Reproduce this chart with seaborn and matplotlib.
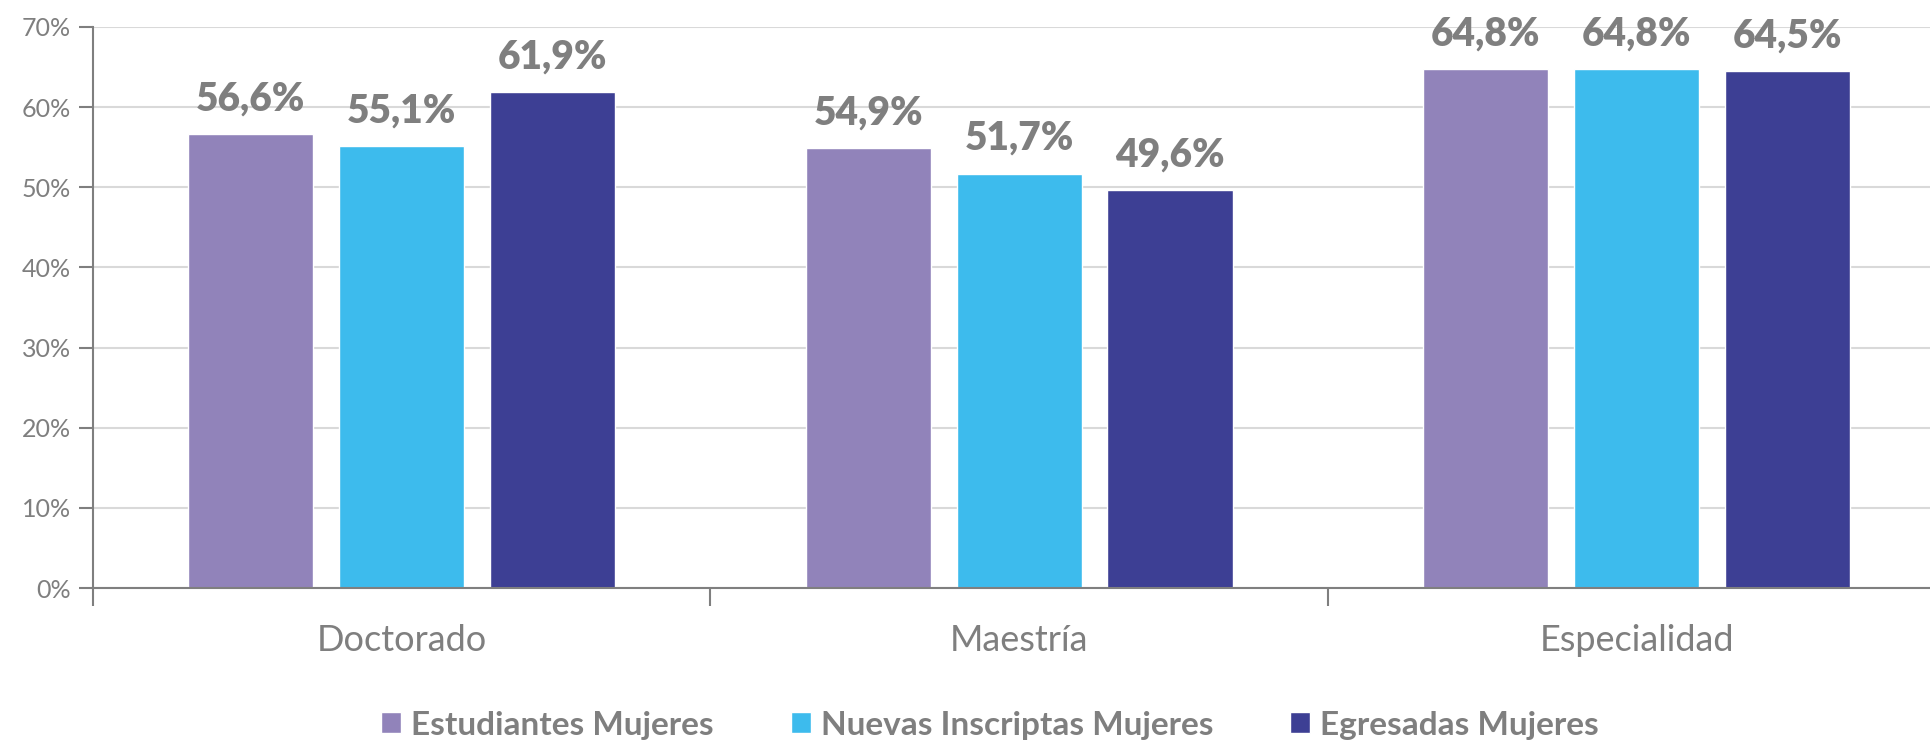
import matplotlib.pyplot as plt
import seaborn as sns
import pandas as pd

# datos del gráfico
niveles = ['Doctorado', 'Maestría', 'Especialidad']
series = ['Estudiantes Mujeres', 'Nuevas Inscriptas Mujeres', 'Egresadas Mujeres']
estudiantes = [56.6, 54.9, 64.8]
nuevas = [55.1, 51.7, 64.8]
egresadas = [61.9, 49.6, 64.5]
y_ticks = [0, 10, 20, 30, 40, 50, 60, 70]

colores = ['#9183BA', '#3DBBED', '#3D3F94']
gris = '#7F7F7F'

df = pd.DataFrame({
    'nivel': niveles * 3,
    'serie': [s for s in series for _ in niveles],
    'valor': estudiantes + nuevas + egresadas,
})

sns.set_style('white')
plt.rcParams['font.family'] = ['Lato', 'DejaVu Sans']

fig = plt.figure(figsize=(19.3, 7.42), dpi=100)
ax = fig.add_axes([93 / 1930, 154 / 742, 1 - 93 / 1930, 561 / 742])

sns.barplot(data=df, x='nivel', y='valor', hue='serie', order=niveles,
            hue_order=series, palette=colores, width=0.733, gap=0.17,
            saturation=1, ax=ax, legend=True)

ax.set_ylim(0, 70)
ax.set_xlim(-0.5, 2.475)
ax.set_yticks(y_ticks)
ax.set_yticklabels([f'{t}%' for t in y_ticks], fontsize=18, color=gris)
ax.set_xlabel('')
ax.set_ylabel('')
ax.tick_params(axis='x', length=0, labelsize=26, labelcolor=gris, pad=26)
ax.tick_params(axis='y', left=True, length=10, color=gris, width=1.5, pad=6)
ax.set_xticks([-0.5, 0.5, 1.5], minor=True)
ax.tick_params(axis='x', which='minor', bottom=True, length=13, color=gris, width=1.5)

ax.grid(axis='y', color='#D9D9D9', linewidth=1.5)
ax.set_axisbelow(True)
for lado in ['top', 'right']:
    ax.spines[lado].set_visible(False)
for lado in ['left', 'bottom']:
    ax.spines[lado].set_color(gris)
    ax.spines[lado].set_linewidth(1.5)

# etiquetas de valor
for cont in ax.containers:
    for barra in cont:
        h = barra.get_height()
        ax.annotate(f'{h:.1f}%'.replace('.', ','),
                    xy=(barra.get_x() + barra.get_width() / 2, h),
                    xytext=(0, 17), textcoords='offset points',
                    ha='center', va='baseline', fontsize=28,
                    fontweight='heavy', color=gris)

handles, labels = ax.get_legend_handles_labels()
ax.get_legend().remove()
fig.legend(handles, labels, loc='center', bbox_to_anchor=(990 / 1930, 17 / 742),
           ncol=3, frameon=False, handlelength=0.6,
           handleheight=0.6, handletextpad=0.3, columnspacing=2.3,
           prop={'weight': 'bold', 'size': 24})
for t in fig.legends[0].get_texts():
    t.set_color(gris)

fig.savefig('out.png', dpi=100)
